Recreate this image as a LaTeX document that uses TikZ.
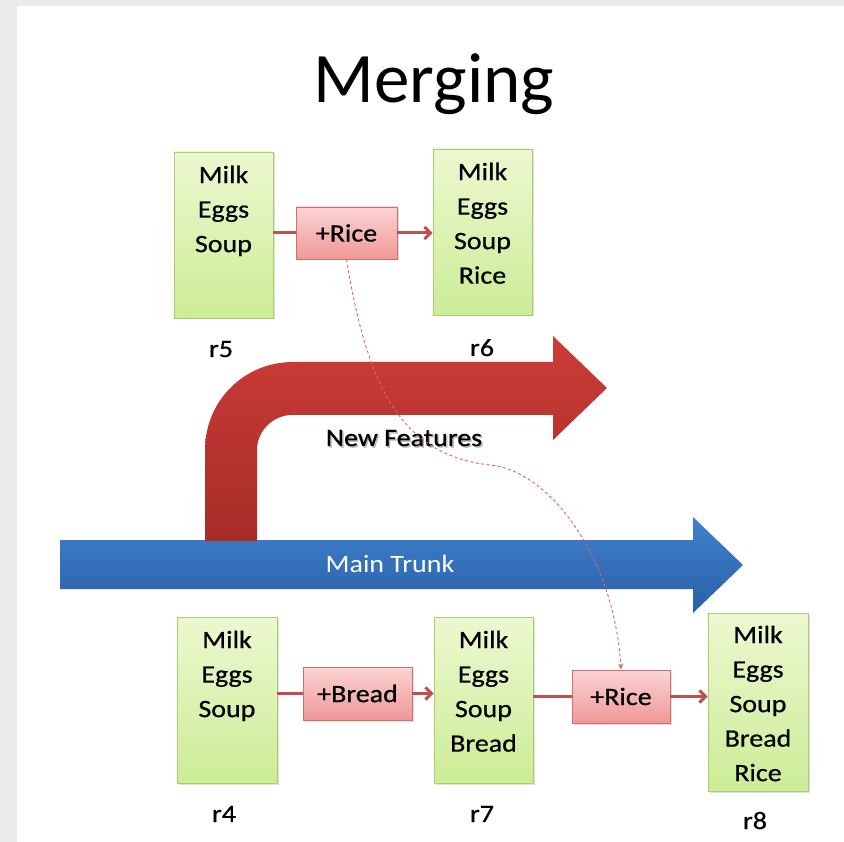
\documentclass[tikz,border=0pt]{standalone}
\usepackage{fontspec}
\setmainfont{Carlito}
\newfontfamily\wfont[FakeStretch=1.12,FakeBold=0.6]{Carlito}
\newfontfamily\tfont[FakeStretch=1.12]{Carlito}
\usetikzlibrary{arrows.meta,shadows}
\definecolor{bgGray}{RGB}{235,235,235}
\definecolor{boxTop}{RGB}{236,248,208}
\definecolor{boxBot}{RGB}{204,236,150}
\definecolor{boxLine}{RGB}{170,205,112}
\definecolor{pinkTop}{RGB}{251,212,212}
\definecolor{pinkBot}{RGB}{238,152,150}
\definecolor{pinkLine}{RGB}{208,112,110}
\definecolor{connRed}{RGB}{192,80,77}
\definecolor{dashRed}{RGB}{220,100,100}
\definecolor{redTop}{RGB}{204,60,55}
\definecolor{redBot}{RGB}{166,44,40}
\definecolor{blueTop}{RGB}{64,128,204}
\definecolor{blueBot}{RGB}{42,96,168}
\begin{document}
\begin{tikzpicture}[x=1pt,y=-1pt,
  itembox/.style={draw=boxLine, line width=0.9pt, top color=boxTop, bottom color=boxBot,
    inner sep=0pt, drop shadow={shadow xshift=1.5pt, shadow yshift=-1.5pt, opacity=0.25}},
  changebox/.style={draw=pinkLine, line width=0.9pt, top color=pinkTop, bottom color=pinkBot,
    inner sep=0pt, font={\wfont\fontsize{25}{30}\selectfont},
    drop shadow={shadow xshift=1.5pt, shadow yshift=-1.5pt, opacity=0.25}},
  itemtext/.style={anchor=north, inner sep=0pt, align=center,
    font={\wfont\fontsize{25}{34.5}\selectfont}},
  revlabel/.style={anchor=base, inner sep=0pt, font={\wfont\fontsize{25}{30}\selectfont}},
  conn/.style={draw=connRed, line width=3pt},
  connarrow/.style={conn, -{Straight Barb[length=6pt,width=12pt]}},
  dashconn/.style={draw=dashRed, line width=0.9pt, dash pattern=on 3pt off 2.5pt,
    -{Stealth[length=6pt,width=5pt]}}
]
\useasboundingbox (0,0) rectangle (844,842);
% background
\fill[bgGray] (0,0) rectangle (844,842);
\fill[white] (17,6) rectangle (844,842);

% title
\node[anchor=base, inner sep=0pt, font={\fontsize{71}{80}\selectfont}] (title) at (434,103) {Merging};

% main trunk (blue arrow)
\path[top color=blueTop, bottom color=blueBot]
  (60,540) -- (693,540) -- (693,517) -- (743,565) -- (693,613) -- (693,589) -- (60,589) -- cycle;
\node[anchor=base, inner sep=0pt, text=white, font={\tfont\fontsize{25}{30}\selectfont}] (trunk) at (390,572) {Main Trunk};

% new features (red bent arrow)
\path[top color=redTop, bottom color=redBot]
  (205,541) -- (205,450) .. controls (205,401) and (244,362) .. (293,362)
  -- (553,362) -- (553,336) -- (607,388) -- (553,440) -- (553,415)
  -- (292,415) .. controls (273,415) and (257,431) .. (257,450) -- (257,541) -- cycle;
\node[anchor=base, inner sep=0pt, text=black, opacity=0.25, font={\wfont\fontsize{25}{30}\selectfont}] (nfshadow) at (405.5,447.5) {New Features};
\node[anchor=base, inner sep=0pt, font={\wfont\fontsize{25}{30}\selectfont}] (newfeat) at (404,446) {New Features};

% top row
\node[itembox, minimum width=99pt, minimum height=166pt] (r5) at (223.5,235) {};
\node[itembox, minimum width=99pt, minimum height=166pt] (r6) at (482.5,232) {};
\node[changebox, minimum width=101pt, minimum height=52pt] (riceTop) at (346.5,233) {+Rice};
\node[itemtext] (r5t) at ([yshift=-14pt]r5.north) {Milk\\Eggs\\Soup};
\node[itemtext] (r6t) at ([yshift=-14pt]r6.north) {Milk\\Eggs\\Soup\\Rice};
\node[revlabel] (r5l) at (221,357) {r5};
\node[revlabel] (r6l) at (482,356) {r6};
\draw[conn] (riceTop.west -| r5.east) -- (riceTop.west);
\draw[connarrow] (riceTop.east) -- (riceTop.east -| r6.west);

% bottom row
\node[itembox, minimum width=100pt, minimum height=166pt] (r4) at (227,700) {};
\node[itembox, minimum width=99pt, minimum height=166pt] (r7) at (483.5,700) {};
\node[itembox, minimum width=100pt, minimum height=178pt] (r8) at (758,702) {};
\node[changebox, minimum width=109pt, minimum height=53pt] (bread) at (357.5,693.5) {+Bread};
\node[changebox, minimum width=98pt, minimum height=53pt] (riceBot) at (621,696.5) {+Rice};
\node[itemtext] (r4t) at ([yshift=-14pt]r4.north) {Milk\\Eggs\\Soup};
\node[itemtext] (r7t) at ([yshift=-14pt]r7.north) {Milk\\Eggs\\Soup\\Bread};
\node[itemtext] (r8t) at ([yshift=-13pt]r8.north) {Milk\\Eggs\\Soup\\Bread\\Rice};
\node[revlabel] (r4l) at (224,822) {r4};
\node[revlabel] (r7l) at (482,822) {r7};
\node[revlabel] (r8l) at (755,829) {r8};
\draw[conn] (bread.west -| r4.east) -- (bread.west);
\draw[connarrow] (bread.east) -- (bread.east -| r7.west);
\draw[conn] (riceBot.west -| r7.east) -- (riceBot.west);
\draw[connarrow] (riceBot.east) -- (riceBot.east -| r8.west);

% merge (dashed)
\draw[dashconn] (riceTop.south) .. controls (367,385) and (400,455) .. (490,465)
  .. controls (548,470) and (614,555) .. (riceBot.north);
\end{tikzpicture}
\end{document}
